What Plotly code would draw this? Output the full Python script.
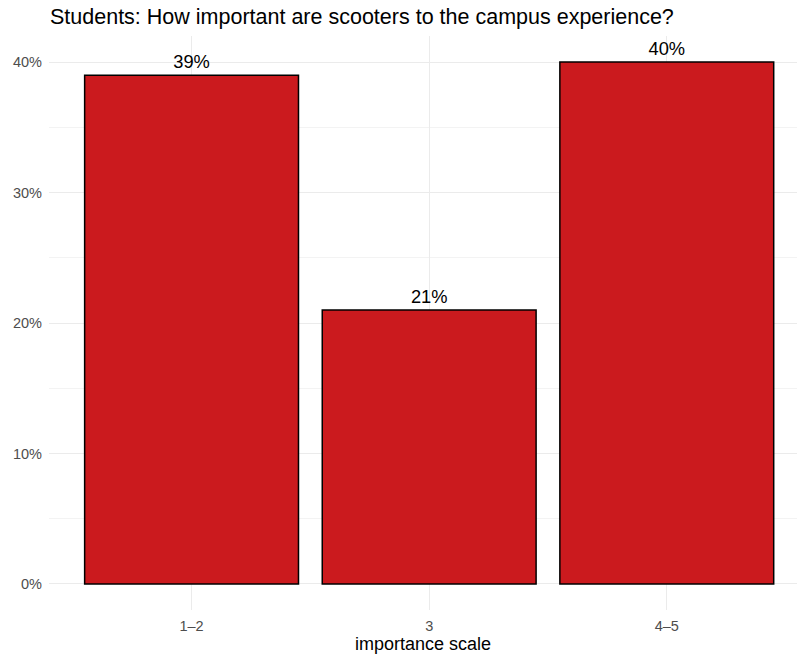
import plotly.graph_objects as go

categories = ["1–2", "3", "4–5"]
values = [39, 21, 40]
labels = ["39%", "21%", "40%"]
y_ticks = [0, 10, 20, 30, 40]
y_tick_labels = ["0%", "10%", "20%", "30%", "40%"]

FONT = "Liberation Sans, Arial, sans-serif"

W, H = 797, 657

fig = go.Figure()
fig.add_trace(go.Bar(
    x=categories, y=values, width=0.9,
    marker=dict(color="#CB1A1E", line=dict(color="black", width=1.5)),
    text=labels, textposition="outside", cliponaxis=False,
    textfont=dict(family=FONT, size=18.3, color="black"),
    hoverinfo="skip",
))

fig.update_layout(
    width=W, height=H,
    margin=dict(l=49, r=0, t=36, b=47, autoexpand=False),
    paper_bgcolor="white", plot_bgcolor="white",
    showlegend=False,
    font=dict(family=FONT),
    title=dict(text="Students: How important are scooters to the campus experience?",
               x=50/W, xanchor="left", xref="container", y=1-16/H, yanchor="middle", yref="container",
               pad=dict(l=0, r=0, t=0, b=0),
               font=dict(family=FONT, size=21.5, color="black")),
    xaxis=dict(type="category", range=[-0.6, 2.548], showgrid=True, gridcolor="#EBEBEB",
               gridwidth=1, zeroline=False, showline=False, ticks="", automargin=False,
               tickfont=dict(family=FONT, size=14.5, color="#4D4D4D"),
               ticklabelstandoff=5,
               title=dict(text="importance scale", font=dict(family=FONT, size=18, color="black"), standoff=4)),
    yaxis=dict(range=[-2, 42], tickvals=y_ticks, ticktext=y_tick_labels, showgrid=True,
               gridcolor="#EBEBEB", gridwidth=1, zeroline=False, showline=False, ticks="", automargin=False,
               tickfont=dict(family=FONT, size=14.5, color="#4D4D4D"),
               ticklabelstandoff=6,
               minor=dict(tickvals=[5, 15, 25, 35], showgrid=True, gridcolor="#F3F3F3", gridwidth=1)),
    bargap=0.1,
)

fig.write_html("out.html", config={"displayModeBar": False},
               post_script="document.body.style.margin='0';")
